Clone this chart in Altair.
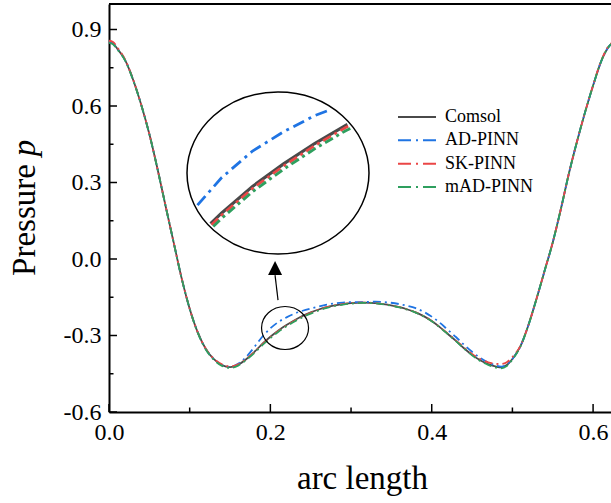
import altair as alt
import pandas as pd

# ---------------- data ----------------
X = [0.000, 0.005, 0.010, 0.020, 0.030, 0.040, 0.050, 0.060, 0.070, 0.080,
     0.090, 0.100, 0.110, 0.120, 0.130, 0.140, 0.150, 0.160, 0.170, 0.180,
     0.190, 0.200, 0.210, 0.220, 0.230, 0.240, 0.250, 0.260, 0.270, 0.280,
     0.290, 0.300, 0.315, 0.330, 0.345, 0.360, 0.370, 0.380, 0.390, 0.400,
     0.410, 0.420, 0.430, 0.440, 0.450, 0.460, 0.470, 0.480, 0.486, 0.493,
     0.500, 0.510, 0.520, 0.530, 0.540, 0.550, 0.560, 0.570, 0.580, 0.590,
     0.600, 0.610, 0.620, 0.628]

COMSOL = [0.851, 0.845, 0.826, 0.780, 0.702, 0.604, 0.490, 0.355, 0.210, 0.067,
          -0.075, -0.195, -0.288, -0.353, -0.393, -0.416, -0.424, -0.415, -0.393, -0.365,
          -0.333, -0.305, -0.280, -0.259, -0.240, -0.223, -0.209, -0.198, -0.189, -0.182,
          -0.177, -0.173, -0.171, -0.173, -0.179, -0.189, -0.198, -0.209, -0.224, -0.243,
          -0.267, -0.294, -0.321, -0.350, -0.376, -0.397, -0.412, -0.422, -0.425, -0.416,
          -0.392, -0.342, -0.258, -0.155, -0.045, 0.065, 0.195, 0.335, 0.460, 0.575,
          0.680, 0.775, 0.835, 0.850]

AD_PINN = [0.851, 0.845, 0.826, 0.780, 0.702, 0.604, 0.490, 0.355, 0.210, 0.067,
           -0.075, -0.195, -0.288, -0.353, -0.393, -0.416, -0.423, -0.411, -0.384, -0.346,
           -0.305, -0.272, -0.247, -0.229, -0.214, -0.203, -0.194, -0.186, -0.179, -0.174,
           -0.171, -0.169, -0.169, -0.167, -0.170, -0.177, -0.184, -0.193, -0.207, -0.226,
           -0.250, -0.278, -0.306, -0.336, -0.364, -0.388, -0.406, -0.418, -0.422, -0.414,
           -0.392, -0.342, -0.258, -0.155, -0.045, 0.065, 0.195, 0.335, 0.460, 0.575,
           0.680, 0.775, 0.835, 0.850]

SK_PINN = [0.856, 0.851, 0.831, 0.782, 0.703, 0.604, 0.490, 0.355, 0.210, 0.067,
           -0.075, -0.195, -0.288, -0.352, -0.391, -0.413, -0.421, -0.413, -0.392, -0.365,
           -0.335, -0.307, -0.282, -0.261, -0.242, -0.225, -0.211, -0.199, -0.189, -0.182,
           -0.177, -0.173, -0.171, -0.173, -0.179, -0.189, -0.198, -0.209, -0.224, -0.243,
           -0.267, -0.293, -0.319, -0.347, -0.372, -0.392, -0.405, -0.411, -0.412, -0.405,
           -0.385, -0.340, -0.258, -0.155, -0.045, 0.065, 0.195, 0.335, 0.460, 0.575,
           0.681, 0.777, 0.838, 0.853]

MAD_PINN = [0.848, 0.842, 0.823, 0.778, 0.701, 0.604, 0.490, 0.355, 0.210, 0.067,
            -0.075, -0.195, -0.289, -0.355, -0.395, -0.419, -0.427, -0.418, -0.396, -0.369,
            -0.338, -0.310, -0.285, -0.264, -0.245, -0.228, -0.214, -0.202, -0.192, -0.184,
            -0.179, -0.175, -0.172, -0.174, -0.180, -0.190, -0.199, -0.210, -0.225, -0.244,
            -0.268, -0.295, -0.322, -0.351, -0.378, -0.400, -0.415, -0.426, -0.429, -0.420,
            -0.394, -0.343, -0.258, -0.155, -0.045, 0.065, 0.195, 0.335, 0.460, 0.575,
            0.680, 0.775, 0.835, 0.850]

SERIES = ["Comsol", "AD-PINN", "SK-PINN", "mAD-PINN"]
VALUES = [COMSOL, AD_PINN, SK_PINN, MAD_PINN]

Y_MAJOR = [-0.6, -0.3, 0.0, 0.3, 0.6, 0.9]
Y_MINOR = [-0.45, -0.15, 0.15, 0.45, 0.75]
X_MAJOR = [0.0, 0.2, 0.4, 0.6]
X_MINOR = [0.1, 0.3, 0.5]

# ---------------- styles / layout ----------------
FONT = "Liberation Serif"
COLOR = {"Comsol": "#4a4a4a", "AD-PINN": "#1f74e3", "SK-PINN": "#ea4646", "mAD-PINN": "#2e9f5e"}
DASH = {"Comsol": None, "AD-PINN": [8, 4, 2, 4], "SK-PINN": [8, 4, 2, 4], "mAD-PINN": [8, 4, 2, 4]}
DASH_INSET = {"Comsol": None, "AD-PINN": [12, 5, 3, 5], "SK-PINN": [9, 4, 3, 4], "mAD-PINN": [9, 4, 3, 4]}
DASH_LEG = {"Comsol": None, "AD-PINN": [13, 5, 2, 5], "SK-PINN": [13, 5, 2, 5], "mAD-PINN": [13, 5, 2, 5]}

W, H = 502, 408
X_DOMAIN = [0.0, 0.6222]
Y_DOMAIN = [-0.6, 1.0]

# zoom window (small circle, data coords) and inset (pixel placement)
ZX, ZY = 0.2182, -0.2706
IDX, IDY = 0.0293, 0.0756
IYC = -0.2675
ICX, ICY, IRX, IRY = 169, 169, 91, 81
# arrow (data coords)
ARROW = {"x": 0.2095, "y": -0.161, "x2": 0.2058, "y2": -0.063}
HEAD = {"x": 0.2058, "y": -0.035}

rows = []
for name, vals in zip(SERIES, VALUES):
    for i, (x, y) in enumerate(zip(X, vals)):
        rows.append({"series": name, "x": x, "y": y, "order": i})
long = pd.DataFrame(rows)


def clip_ellipse(xs_, ys_, cx, cy, ax, ay):
    u = [(x - cx) / ax for x in xs_]
    v = [(y - cy) / ay for y in ys_]
    out = []
    for i in range(len(xs_) - 1):
        du, dv = u[i + 1] - u[i], v[i + 1] - v[i]
        a = du * du + dv * dv
        b = 2 * (u[i] * du + v[i] * dv)
        c = u[i] ** 2 + v[i] ** 2 - 1
        disc = b * b - 4 * a * c
        if a == 0 or disc <= 0:
            continue
        s = disc ** 0.5
        t0 = max(0.0, (-b - s) / (2 * a))
        t1 = min(1.0, (-b + s) / (2 * a))
        if t0 >= t1:
            continue
        p0 = (xs_[i] + t0 * (xs_[i + 1] - xs_[i]), ys_[i] + t0 * (ys_[i + 1] - ys_[i]))
        p1 = (xs_[i] + t1 * (xs_[i + 1] - xs_[i]), ys_[i] + t1 * (ys_[i + 1] - ys_[i]))
        if not out or out[-1] != p0:
            out.append(p0)
        out.append(p1)
    return out


irows = []
for name, vals in zip(SERIES, VALUES):
    pts = clip_ellipse(X, vals, ZX, IYC, IDX * 0.97, IDY * 0.97)
    for i, (x, y) in enumerate(pts):
        irows.append({"series": name, "x": x, "y": y, "order": i})
inset_df = pd.DataFrame(irows)

# ---------------- main panel ----------------
hyph = "replace(format(datum.value, '.1f'), '\u2212', '-')"
xs = alt.Scale(domain=X_DOMAIN, nice=False, zero=False)
ys = alt.Scale(domain=Y_DOMAIN, nice=False, zero=False)
x_axis = alt.Axis(values=X_MAJOR, labelExpr=hyph, ticks=False, grid=False, title=None,
                  labelFont=FONT, labelFontSize=24, labelColor="black", labelPadding=8,
                  labelFlush=False, labelOverlap=False, domainColor="black", domainWidth=2)
y_axis = alt.Axis(values=Y_MAJOR, labelExpr=hyph, ticks=False, grid=False, title=None,
                  labelFont=FONT, labelFontSize=24, labelColor="black", labelPadding=8,
                  labelFlush=False, labelOverlap=False, domainColor="black", domainWidth=2)
ex = alt.X("x:Q", scale=xs, axis=x_axis)
ey = alt.Y("y:Q", scale=ys, axis=y_axis)

main_layers = []
for name in SERIES:
    kw = dict(color=COLOR[name], strokeWidth=1.8, interpolate="monotone", clip=True)
    if DASH[name]:
        kw["strokeDash"] = DASH[name]
    main_layers.append(
        alt.Chart(long).transform_filter(alt.datum.series == name)
        .mark_line(**kw).encode(x=ex, y=ey, order="order:Q")
    )

ytick = alt.Chart(pd.DataFrame({"y": Y_MAJOR})).mark_rule(color="black", strokeWidth=1.5).encode(
    y=ey, x=alt.value(0), x2=alt.value(8))
ytick_m = alt.Chart(pd.DataFrame({"y": Y_MINOR})).mark_rule(color="black", strokeWidth=1.5).encode(
    y=ey, x=alt.value(0), x2=alt.value(4.5))
xtick = alt.Chart(pd.DataFrame({"x": X_MAJOR})).mark_rule(color="black", strokeWidth=1.5).encode(
    x=ex, y=alt.value(H), y2=alt.value(H - 8))
xtick_m = alt.Chart(pd.DataFrame({"x": X_MINOR})).mark_rule(color="black", strokeWidth=1.5).encode(
    x=ex, y=alt.value(H), y2=alt.value(H - 4.5))
top_border = alt.Chart(pd.DataFrame({"a": [0]})).mark_rule(color="black", strokeWidth=2).encode(
    x=alt.value(0), x2=alt.value(W), y=alt.value(0))

small_circle = alt.Chart(pd.DataFrame({"x": [ZX], "y": [ZY]})).mark_point(
    shape="M -1 0 A 1 0.915 0 1 0 1 0 A 1 0.915 0 1 0 -1 0 Z", size=47 ** 2,
    filled=False, color="black", strokeWidth=1.2, opacity=1).encode(x=ex, y=ey)
arrow = alt.Chart(pd.DataFrame([ARROW])).mark_rule(color="black", strokeWidth=1.2).encode(
    x=ex, y=ey, x2="x2:Q", y2="y2:Q")
head = alt.Chart(pd.DataFrame([HEAD])).mark_point(
    shape="M 0 -1 L 1 1 L -1 1 Z", size=196, filled=True, color="black", opacity=1).encode(x=ex, y=ey)

main = alt.layer(*main_layers, ytick, ytick_m, xtick, xtick_m, top_border,
                 small_circle, arrow, head)

# ---------------- inset ----------------
ixs = alt.Scale(domain=[ZX - IDX, ZX + IDX], range=[ICX - IRX, ICX + IRX], nice=False, zero=False)
iys = alt.Scale(domain=[IYC - IDY, IYC + IDY], range=[ICY + IRY, ICY - IRY], nice=False, zero=False)
iex = alt.X("x:Q", scale=ixs, axis=None)
iey = alt.Y("y:Q", scale=iys, axis=None)
inset_layers = []
for name in SERIES:
    kw = dict(color=COLOR[name], strokeWidth=3.2 if name == "Comsol" else 2.8)
    if DASH_INSET[name]:
        kw["strokeDash"] = DASH_INSET[name]
    inset_layers.append(
        alt.Chart(inset_df).transform_filter(alt.datum.series == name)
        .mark_line(**kw).encode(x=iex, y=iey, order="order:Q")
    )
big_circle = alt.Chart(pd.DataFrame({"x": [ZX], "y": [IYC]})).mark_point(
    shape="M -1 0 A 1 0.89 0 1 0 1 0 A 1 0.89 0 1 0 -1 0 Z", size=(2 * IRX) ** 2,
    filled=False, color="black", strokeWidth=1.5, opacity=1).encode(x=iex, y=iey)
inset = alt.layer(*inset_layers, big_circle)

# ---------------- legend ----------------
leg_df = pd.DataFrame({"series": SERIES})
ly = alt.Y("series:N", scale=alt.Scale(type="point", domain=SERIES, range=[113, 183], padding=0), axis=None)
leg_layers = []
for name in SERIES:
    kw = dict(color=COLOR[name], strokeWidth=2)
    if DASH_LEG[name]:
        kw["strokeDash"] = DASH_LEG[name]
    leg_layers.append(
        alt.Chart(leg_df).transform_filter(alt.datum.series == name)
        .mark_rule(**kw).encode(y=ly, x=alt.value(289), x2=alt.value(327))
    )
leg_text = alt.Chart(leg_df).mark_text(align="left", baseline="middle", font=FONT, fontSize=18,
                                        color="black").encode(y=ly, x=alt.value(336), text="series:N")
legend = alt.layer(*leg_layers, leg_text)

# ---------------- axis titles ----------------
xt = alt.Chart(pd.DataFrame({"t": ["arc length"]})).mark_text(
    align="center", baseline="alphabetic", font=FONT, fontSize=33, color="black").encode(
    x=alt.value(253.5), y=alt.value(485), text="t:N")
yt1 = alt.Chart(pd.DataFrame({"t": ["Pressure"]})).mark_text(
    align="center", baseline="alphabetic", font=FONT, fontSize=33, color="black", angle=270).encode(
    x=alt.value(-74), y=alt.value(216), text="t:N")
yt2 = alt.Chart(pd.DataFrame({"t": ["p"]})).mark_text(
    align="center", baseline="alphabetic", font=FONT, fontSize=33, fontStyle="italic",
    color="black", angle=270).encode(x=alt.value(-74), y=alt.value(144), text="t:N")
titles = alt.layer(xt, yt1, yt2)

chart = alt.layer(main, inset, legend, titles).resolve_scale(
    x="independent", y="independent").properties(
    width=W, height=H,
    padding={"left": 109, "top": 4, "right": 0, "bottom": 91},
    autosize=alt.AutoSizeParams(type="none"),
).configure_view(stroke=None)

chart.save("out.html", embed_options={"renderer": "svg", "actions": False})
